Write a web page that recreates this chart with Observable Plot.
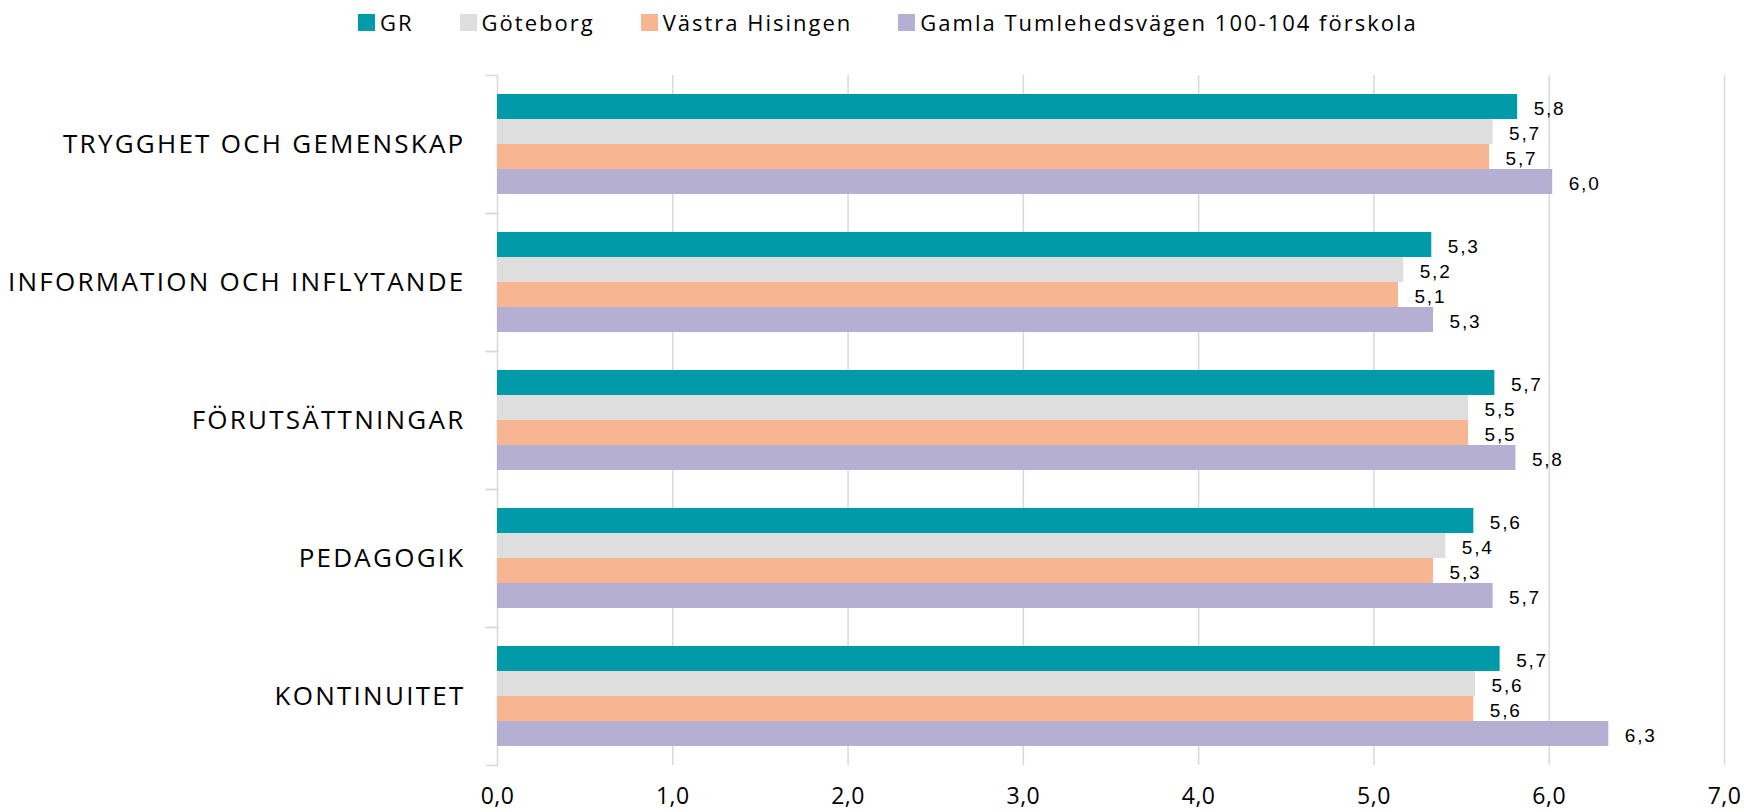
<!DOCTYPE html>
<html>
<head>
<meta charset="utf-8">
<script src="https://cdn.jsdelivr.net/npm/d3@7"></script>
<script src="https://cdn.jsdelivr.net/npm/@observablehq/plot@0.6"></script>
<style>
  html, body { margin: 0; padding: 0; background: #fff; }
  #legend { height: 44px; display: flex; align-items: center; justify-content: flex-start; padding-left: 358px;
    font-family: "Open Sans", sans-serif; font-size: 22px; letter-spacing: 2px; color: #000; box-sizing: border-box; }
  #legend .item { display: flex; align-items: center; margin-right: 46px; }
  #legend .sw { width: 17px; height: 17px; margin-right: 5px; display: inline-block; }
  svg { display: block; }
</style>
</head>
<body>
<div id="legend"></div>
<div id="chart"></div>
<script>
const categories = ["TRYGGHET OCH GEMENSKAP", "INFORMATION OCH INFLYTANDE", "FÖRUTSÄTTNINGAR", "PEDAGOGIK", "KONTINUITET"];
const seriesNames = ["GR", "Göteborg", "Västra Hisingen", "Gamla Tumlehedsvägen 100-104 förskola"];
const colors = ["#009AA8", "#DEDEDE", "#F8B592", "#B5AFD3"];
const grValues = [5.82, 5.33, 5.69, 5.57, 5.72];
const goteborgValues = [5.68, 5.17, 5.54, 5.41, 5.58];
const vastraValues = [5.66, 5.14, 5.54, 5.34, 5.57];
const gamlaValues = [6.02, 5.34, 5.81, 5.68, 6.34];
const xTicks = [0, 1, 2, 3, 4, 5, 6, 7];

const seriesValues = [grValues, goteborgValues, vastraValues, gamlaValues];
const rows = [];
categories.forEach((c, ci) => seriesNames.forEach((s, si) => rows.push({category: c, series: s, value: seriesValues[si][ci]})));
const fmt = v => v.toFixed(1).replace(".", ",");

// legend
const legend = document.getElementById("legend");
seriesNames.forEach((s, i) => {
  const it = document.createElement("span"); it.className = "item";
  const sw = document.createElement("span"); sw.className = "sw"; sw.style.background = colors[i];
  const tx = document.createElement("span"); tx.textContent = s;
  it.appendChild(sw); it.appendChild(tx); legend.appendChild(it);
});

const W = 1744, ML = 497, MR = 20;
const plotW = W - ML - MR;
const gridColor = "#d9d9d9";

const chart = Plot.plot({
  width: W, height: 768,
  marginLeft: ML, marginRight: MR, marginTop: 31, marginBottom: 47,
  x: {domain: [0, 7], axis: null, label: null},
  y: {domain: seriesNames, paddingInner: 0, paddingOuter: 0.76, axis: null, label: null},
  fy: {domain: categories, padding: 0, axis: null, label: null},
  color: {domain: seriesNames, range: colors},
  marks: [
    Plot.gridX(xTicks.filter(d => d > 0), {stroke: gridColor, strokeOpacity: 1, strokeWidth: 1.5}),
    Plot.ruleX([0], {stroke: gridColor, strokeWidth: 1.5}),
    Plot.frame({anchor: "top", insetLeft: -11, insetRight: plotW, stroke: gridColor, strokeWidth: 1.5}),
    Plot.frame({anchor: "bottom", insetLeft: -11, insetRight: plotW, stroke: gridColor, strokeWidth: 1.5}),
    Plot.barX(rows, {fy: "category", y: "series", x: "value", fill: "series"}),
    Plot.text(rows, {fy: "category", y: "series", x: "value", text: d => fmt(d.value), dx: 16, dy: 2,
      textAnchor: "start", fontSize: 19, fontFamily: "Liberation Sans, Arial, sans-serif", fill: "#000",
      ariaLabel: "value label"}),
    Plot.text(categories, {fy: d => d, text: d => d, frameAnchor: "left", dx: -32, textAnchor: "end",
      fontSize: 26, fontFamily: "Open Sans, sans-serif", fill: "#000", ariaLabel: "category label"}),
    Plot.axisX(xTicks, {anchor: "bottom", tickSize: 0, tickPadding: 22, tickFormat: d => fmt(d), label: null,
      fontSize: 23, fontFamily: "Open Sans, sans-serif", fill: "#000"})
  ]
});
document.getElementById("chart").appendChild(chart);

// letter spacing adjustments (typographic styling only)
const catSet = new Set(categories);
d3.select(chart).selectAll("text").each(function() {
  const t = this.textContent;
  if (catSet.has(t)) {
    this.setAttribute("letter-spacing", "2.25");
    this.style.letterSpacing = "2.25px";
  } else if (/^\d,\d$/.test(t)) {
    const inAxis = this.closest('g[aria-label="x-axis tick label"]');
    const ls = inAxis ? "0.5" : "1.8";
    this.setAttribute("letter-spacing", ls);
    this.style.letterSpacing = ls + "px";
  }
});
</script>
</body>
</html>
